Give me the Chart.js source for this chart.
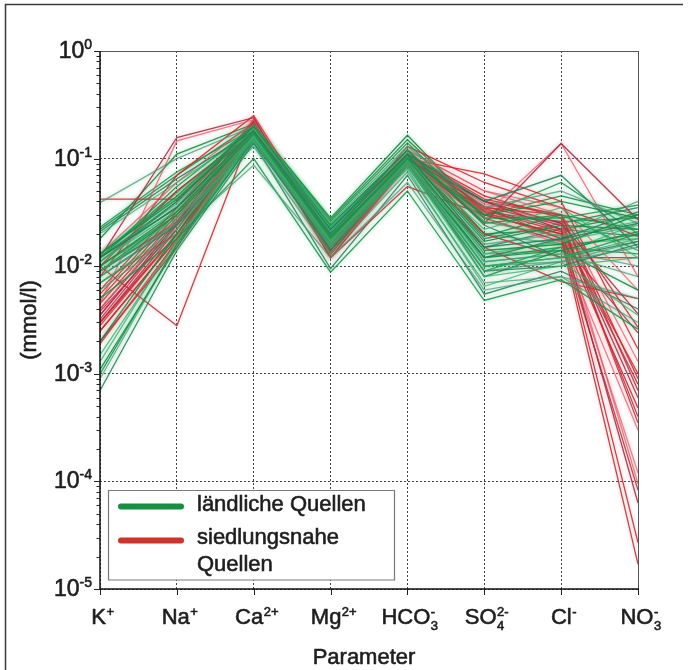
<!DOCTYPE html>
<html>
<head>
<meta charset="utf-8">
<script src="https://cdn.jsdelivr.net/npm/chart.js@4.4.1/dist/chart.umd.min.js"></script>
<style>
  html, body { margin: 0; padding: 0; background: #ffffff; }
  #wrap { position: relative; width: 695px; height: 670px; }
</style>
</head>
<body>
<div id="wrap"><canvas id="c" width="695" height="670"></canvas></div>
<script>
// Parameters on the x axis: [base, subscript, superscript]
const parameters = ['K+', 'Na+', 'Ca2+', 'Mg2+', 'HCO3-', 'SO42-', 'Cl-', 'NO3-'];
const parameterLabels = [
  ['K', '', '+'], ['Na', '', '+'], ['Ca', '', '2+'], ['Mg', '', '2+'],
  ['HCO', '3', '-'], ['SO', '4', '2-'], ['Cl', '', '-'], ['NO', '3', '-']
];
const decadeExponents = [0, -1, -2, -3, -4, -5];
const seriesNames = ['ländliche Quellen', 'siedlungsnahe Quellen'];

// Concentrations in mmol/l, one row per spring: K, Na, Ca, Mg, HCO3, SO4, Cl, NO3
const ruralSprings = [
  [0.010, 0.030, 0.17, 0.018, 0.100, 0.012, 0.015, 0.020],
  [0.012, 0.035, 0.18, 0.020, 0.110, 0.015, 0.018, 0.025],
  [0.009, 0.028, 0.16, 0.017, 0.095, 0.010, 0.012, 0.018],
  [0.011, 0.040, 0.19, 0.022, 0.120, 0.020, 0.022, 0.030],
  [0.008, 0.025, 0.15, 0.016, 0.090, 0.009, 0.011, 0.015],
  [0.013, 0.045, 0.20, 0.024, 0.120, 0.025, 0.030, 0.022],
  [0.012, 0.050, 0.18, 0.021, 0.110, 0.018, 0.025, 0.035],
  [0.007, 0.022, 0.16, 0.015, 0.085, 0.008, 0.010, 0.012],
  [0.010, 0.032, 0.17, 0.019, 0.100, 0.030, 0.040, 0.028],
  [0.012, 0.038, 0.19, 0.023, 0.105, 0.013, 0.014, 0.010],
  [0.0010, 0.016, 0.15, 0.016, 0.090, 0.010, 0.012, 0.020],
  [0.0007, 0.014, 0.14, 0.015, 0.085, 0.009, 0.010, 0.016],
  [0.0013, 0.018, 0.16, 0.017, 0.095, 0.011, 0.013, 0.025],
  [0.0020, 0.020, 0.17, 0.018, 0.100, 0.014, 0.016, 0.030],
  [0.039, 0.100, 0.20, 0.025, 0.130, 0.035, 0.050, 0.025],
  [0.023, 0.075, 0.19, 0.024, 0.120, 0.030, 0.060, 0.020],
  [0.021, 0.065, 0.18, 0.022, 0.110, 0.040, 0.070, 0.015],
  [0.020, 0.060, 0.18, 0.020, 0.100, 0.022, 0.035, 0.012],
  [0.018, 0.110, 0.21, 0.028, 0.165, 0.030, 0.045, 0.030],
  [0.006, 0.020, 0.087, 0.012, 0.060, 0.006, 0.008, 0.0030],
  [0.005, 0.018, 0.100, 0.0088, 0.050, 0.0048, 0.0075, 0.0026],
  [0.009, 0.026, 0.14, 0.0095, 0.070, 0.0055, 0.009, 0.0040],
  [0.011, 0.033, 0.17, 0.018, 0.080, 0.0065, 0.011, 0.0035],
  [0.013, 0.042, 0.18, 0.019, 0.095, 0.008, 0.014, 0.006],
  [0.010, 0.030, 0.16, 0.016, 0.100, 0.016, 0.020, 0.040],
  [0.012, 0.055, 0.20, 0.026, 0.140, 0.028, 0.028, 0.037],
  [0.008, 0.024, 0.15, 0.014, 0.090, 0.012, 0.018, 0.032],
  [0.013, 0.048, 0.19, 0.021, 0.115, 0.020, 0.016, 0.018],
  [0.009, 0.030, 0.17, 0.018, 0.105, 0.017, 0.024, 0.022],
  [0.011, 0.036, 0.18, 0.020, 0.110, 0.011, 0.013, 0.008],
  [0.007, 0.020, 0.15, 0.015, 0.090, 0.009, 0.015, 0.013],
  [0.012, 0.040, 0.20, 0.022, 0.120, 0.024, 0.012, 0.017],
  [0.0015, 0.017, 0.16, 0.017, 0.100, 0.013, 0.017, 0.024],
  [0.022, 0.070, 0.21, 0.027, 0.150, 0.032, 0.026, 0.028],
  [0.010, 0.028, 0.13, 0.013, 0.075, 0.007, 0.008, 0.005],
  [0.012, 0.035, 0.17, 0.019, 0.100, 0.019, 0.030, 0.014],
  [0.009, 0.025, 0.16, 0.017, 0.095, 0.015, 0.022, 0.019],
  [0.013, 0.044, 0.19, 0.023, 0.120, 0.026, 0.019, 0.026],
  [0.0011, 0.015, 0.15, 0.016, 0.090, 0.012, 0.014, 0.021],
  [0.0009, 0.016, 0.16, 0.017, 0.095, 0.010, 0.011, 0.017]
];

const urbanSprings = [
  [0.042, 0.042, 0.20, 0.018, 0.110, 0.035, 0.030, 0.0009],
  [0.012, 0.157, 0.24, 0.014, 0.100, 0.040, 0.025, 0.0036],
  [0.0045, 0.146, 0.23, 0.015, 0.120, 0.050, 0.030, 0.0013],
  [0.010, 0.0028, 0.20, 0.012, 0.055, 0.030, 0.020, 0.00048],
  [0.0030, 0.020, 0.21, 0.013, 0.100, 0.072, 0.040, 0.0017],
  [0.0035, 0.025, 0.22, 0.014, 0.110, 0.025, 0.138, 0.027],
  [0.0040, 0.028, 0.20, 0.015, 0.095, 0.030, 0.138, 0.008],
  [0.0025, 0.018, 0.20, 0.013, 0.090, 0.035, 0.018, 0.000017],
  [0.0020, 0.015, 0.19, 0.012, 0.090, 0.030, 0.020, 0.000027],
  [0.0030, 0.022, 0.21, 0.014, 0.100, 0.040, 0.022, 0.000063],
  [0.0035, 0.025, 0.22, 0.015, 0.105, 0.038, 0.025, 0.000095],
  [0.0028, 0.020, 0.20, 0.013, 0.095, 0.032, 0.018, 0.000083],
  [0.0050, 0.030, 0.23, 0.016, 0.110, 0.045, 0.028, 0.00035],
  [0.0040, 0.026, 0.21, 0.014, 0.100, 0.036, 0.024, 0.0006],
  [0.0020, 0.016, 0.18, 0.012, 0.085, 0.028, 0.016, 0.0003],
  [0.0060, 0.035, 0.22, 0.016, 0.110, 0.042, 0.030, 0.0007],
  [0.0045, 0.028, 0.21, 0.015, 0.100, 0.033, 0.021, 0.0010],
  [0.0032, 0.024, 0.20, 0.013, 0.095, 0.028, 0.017, 0.0024],
  [0.013, 0.060, 0.22, 0.017, 0.120, 0.050, 0.035, 0.0060],
  [0.0025, 0.018, 0.19, 0.013, 0.090, 0.015, 0.0072, 0.0050],
  [0.008, 0.070, 0.25, 0.018, 0.130, 0.060, 0.035, 0.019],
  [0.0038, 0.022, 0.21, 0.014, 0.100, 0.030, 0.026, 0.0004],
  [0.0030, 0.019, 0.20, 0.013, 0.095, 0.026, 0.019, 0.00012],
  [0.0055, 0.032, 0.22, 0.015, 0.105, 0.040, 0.030, 0.0027],
  [0.010, 0.050, 0.18, 0.016, 0.100, 0.020, 0.012, 0.012],
  [0.0019, 0.017, 0.19, 0.012, 0.088, 0.034, 0.022, 0.0008]
];

const FONT = '"Liberation Sans", Arial, Helvetica, sans-serif';
const TEXT = '#1e1e1e';
const greenShades = ['rgba(22,145,70,0.85)', 'rgba(40,118,88,0.85)', 'rgba(60,168,105,0.75)', 'rgba(28,135,62,0.9)', 'rgba(80,150,120,0.75)'];
const redShades = ['rgba(205,40,45,0.9)', 'rgba(160,35,62,0.85)', 'rgba(226,88,105,0.75)', 'rgba(188,48,50,0.9)'];

const datasets = [];
ruralSprings.forEach((row, i) => datasets.push({
  label: seriesNames[0], data: row, order: (i % 3 === 0) ? 3 : 1,
  borderColor: greenShades[i % greenShades.length], glow: 'rgba(60,190,120,0.6)'
}));
urbanSprings.forEach((row, i) => datasets.push({
  label: seriesNames[1], data: row, order: 2,
  borderColor: redShades[i % redShades.length], glow: 'rgba(240,110,120,0.5)'
}));

function isDecade(v) {
  const l = Math.log10(v);
  return Math.abs(l - Math.round(l)) < 1e-9;
}

// Soft halo around each line
const glowPlugin = {
  id: 'glow',
  beforeDatasetDraw(chart, args) {
    const ds = chart.data.datasets[args.index];
    chart.ctx.save();
    chart.ctx.shadowColor = ds.glow;
    chart.ctx.shadowBlur = 4;
  },
  afterDatasetDraw(chart) { chart.ctx.restore(); }
};

// Text drawn with a thin outline so it reads slightly heavier
function heavyText(ctx, s, x, y) {
  ctx.fillText(s, x, y);
  ctx.strokeText(s, x, y);
}

// Axes box, tick marks, tick labels, titles, legend and frame
const decorPlugin = {
  id: 'decor',
  afterDraw(chart) {
    const { ctx, chartArea: a, scales: { x, y } } = chart;
    ctx.save();

    // outer frame (top and left)
    ctx.strokeStyle = '#3a3a3a';
    ctx.lineWidth = 1.5;
    ctx.beginPath();
    ctx.moveTo(5.5, 670); ctx.lineTo(5.5, 4.5); ctx.lineTo(683, 4.5);
    ctx.stroke();

    // plot box
    ctx.strokeStyle = '#555555';
    ctx.lineWidth = 1;
    ctx.beginPath();
    ctx.moveTo(a.left, a.top + 0.5); ctx.lineTo(a.right + 0.5, a.top + 0.5); ctx.lineTo(a.right + 0.5, a.bottom);
    ctx.stroke();
    ctx.strokeStyle = '#111111';
    ctx.lineWidth = 1.5;
    ctx.beginPath();
    ctx.moveTo(a.left, a.top); ctx.lineTo(a.left, a.bottom); ctx.lineTo(a.right + 1, a.bottom);
    ctx.stroke();

    // y ticks: major and minor
    ctx.lineWidth = 1;
    ctx.strokeStyle = '#222222';
    decadeExponents.forEach(e => {
      const py = Math.round(y.getPixelForValue(Math.pow(10, e))) + 0.5;
      ctx.beginPath(); ctx.moveTo(a.left - 6, py); ctx.lineTo(a.left, py); ctx.stroke();
      if (e < 0) {
        for (let m = 2; m <= 9; m++) {
          const pm = Math.round(y.getPixelForValue(m * Math.pow(10, e))) + 0.5;
          ctx.beginPath(); ctx.moveTo(a.left - 3.5, pm); ctx.lineTo(a.left, pm); ctx.stroke();
        }
      }
    });

    // text styling
    ctx.fillStyle = TEXT;
    ctx.strokeStyle = TEXT;
    ctx.lineWidth = 0.6;
    ctx.lineJoin = 'round';

    // y tick labels 10^e
    ctx.textBaseline = 'alphabetic';
    ctx.textAlign = 'right';
    decadeExponents.forEach(e => {
      const py = y.getPixelForValue(Math.pow(10, e));
      const sup = String(e);
      ctx.font = '14px ' + FONT;
      const sw = ctx.measureText(sup).width;
      heavyText(ctx, sup, 92, py - 2);
      ctx.font = '23px ' + FONT;
      heavyText(ctx, '10', 92 - sw, py + 7);
    });

    // x ticks and labels
    ctx.textAlign = 'left';
    parameterLabels.forEach((p, i) => {
      const px = Math.round(x.getPixelForValue(i)) + 0.5;
      ctx.lineWidth = 1;
      ctx.beginPath(); ctx.moveTo(px, a.bottom); ctx.lineTo(px, a.bottom + 6); ctx.stroke();
      ctx.lineWidth = 0.6;
      const [base, sub, sup] = p;
      ctx.font = '22px ' + FONT;
      const bw = ctx.measureText(base).width;
      ctx.font = '13px ' + FONT;
      const extra = Math.max(sub ? ctx.measureText(sub).width : 0, sup ? ctx.measureText(sup).width : 0);
      const x0 = px + 2 - (bw + extra) / 2;
      const baseY = 624;
      ctx.font = '22px ' + FONT;
      heavyText(ctx, base, x0, baseY);
      ctx.font = '13px ' + FONT;
      if (sup) heavyText(ctx, sup, x0 + bw + 0.5, baseY - 8);
      if (sub) heavyText(ctx, sub, x0 + bw + 0.5, baseY + 6);
    });

    // axis titles
    ctx.font = '22px ' + FONT;
    ctx.textAlign = 'center';
    heavyText(ctx, 'Parameter', (a.left + a.right) / 2 - 5, 664);
    ctx.save();
    ctx.translate(30, (a.top + a.bottom) / 2);
    ctx.rotate(-Math.PI / 2);
    ctx.textBaseline = 'middle';
    heavyText(ctx, '(mmol/l)', 0, 0);
    ctx.restore();

    // legend
    ctx.fillStyle = '#ffffff';
    ctx.fillRect(108.5, 490.5, 286, 89.5);
    ctx.strokeStyle = '#7a7a7a';
    ctx.lineWidth = 1.2;
    ctx.strokeRect(108.5, 490.5, 286, 89.5);
    ctx.lineCap = 'round';
    ctx.lineWidth = 6;
    ctx.strokeStyle = 'rgb(24,142,64)';
    ctx.beginPath(); ctx.moveTo(121, 506.5); ctx.lineTo(181, 506.5); ctx.stroke();
    ctx.strokeStyle = 'rgb(206,52,42)';
    ctx.beginPath(); ctx.moveTo(121, 540.5); ctx.lineTo(181, 540.5); ctx.stroke();
    ctx.lineCap = 'butt';
    ctx.fillStyle = TEXT;
    ctx.strokeStyle = TEXT;
    ctx.lineWidth = 0.6;
    ctx.font = '22px ' + FONT;
    ctx.textAlign = 'left';
    ctx.textBaseline = 'middle';
    heavyText(ctx, seriesNames[0], 197, 505);
    heavyText(ctx, 'siedlungsnahe', 197, 538);
    heavyText(ctx, 'Quellen', 197, 565);

    ctx.restore();
  }
};

new Chart(document.getElementById('c'), {
  type: 'line',
  data: { labels: parameters, datasets },
  options: {
    responsive: false,
    animation: false,
    devicePixelRatio: 1,
    layout: { padding: { left: 100, right: 57, top: 51, bottom: 81 } },
    plugins: { legend: { display: false }, tooltip: { enabled: false } },
    elements: {
      point: { radius: 0, hoverRadius: 0 },
      line: { tension: 0, borderWidth: 1.3, fill: false }
    },
    scales: {
      x: {
        type: 'category',
        offset: false,
        ticks: { display: false },
        grid: { color: 'rgba(45,45,45,0.9)', lineWidth: 1, drawTicks: false },
        border: { display: false, dash: [2, 2] }
      },
      y: {
        type: 'logarithmic',
        min: 1e-5,
        max: 1,
        ticks: { display: false },
        grid: {
          color: (c) => (c.tick && isDecade(c.tick.value)) ? 'rgba(45,45,45,0.9)' : 'rgba(0,0,0,0)',
          lineWidth: 1,
          drawTicks: false
        },
        border: { display: false, dash: [2, 2] }
      }
    }
  },
  plugins: [glowPlugin, decorPlugin]
});
</script>
</body>
</html>
